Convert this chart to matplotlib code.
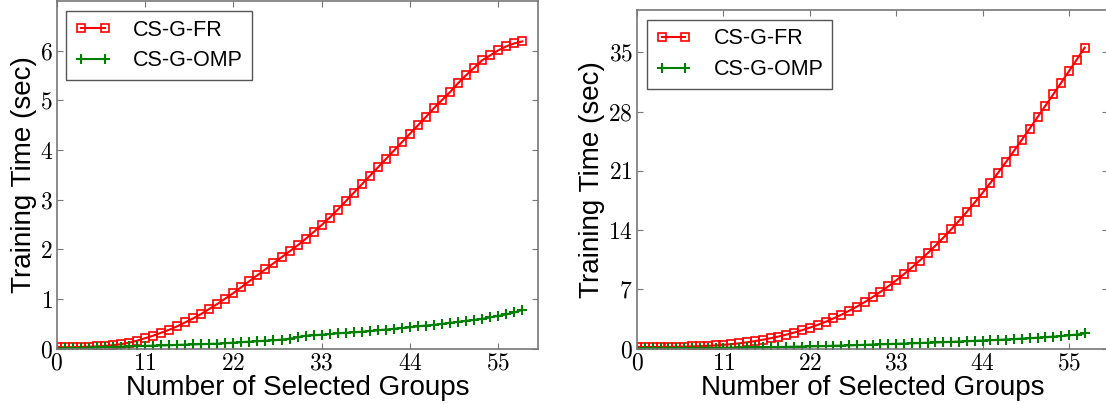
#!/usr/bin/env python3

import numpy as np
import matplotlib
matplotlib.use("Agg")
import matplotlib.pyplot as plt
from matplotlib.ticker import FuncFormatter, MultipleLocator

plt.rcParams["mathtext.fontset"] = "cm"
plt.rcParams["font.family"] = ["Liberation Sans", "DejaVu Sans"]

# left panel: 0 .. 58 selected groups
groups_left = list(range(0, 59))
fr_left = [0.03, 0.03, 0.03, 0.035, 0.04, 0.045, 0.055, 0.07, 0.09, 0.12,
           0.16, 0.21, 0.26, 0.32, 0.38, 0.45, 0.53, 0.61, 0.70, 0.80,
           0.90, 1.01, 1.12, 1.24, 1.36, 1.48, 1.60, 1.72, 1.84, 1.96,
           2.08, 2.21, 2.35, 2.49, 2.64, 2.80, 2.97, 3.14, 3.31, 3.48,
           3.65, 3.82, 3.99, 4.16, 4.33, 4.50, 4.67, 4.85, 5.01, 5.17,
           5.35, 5.51, 5.66, 5.81, 5.91, 6.01, 6.09, 6.15, 6.19]
omp_left = [0.0, 0.005, 0.01, 0.015, 0.02, 0.025, 0.03, 0.035, 0.04, 0.045,
            0.05, 0.055, 0.06, 0.065, 0.07, 0.075, 0.08, 0.085, 0.09, 0.095,
            0.10, 0.11, 0.12, 0.13, 0.14, 0.15, 0.16, 0.17, 0.18, 0.20,
            0.23, 0.26, 0.27, 0.28, 0.295, 0.31, 0.32, 0.33, 0.34, 0.355,
            0.37, 0.385, 0.40, 0.415, 0.43, 0.45, 0.465, 0.48, 0.50, 0.52,
            0.54, 0.56, 0.58, 0.60, 0.63, 0.66, 0.69, 0.73, 0.78]

# right panel: 0 .. 57 selected groups
groups_right = list(range(0, 58))
fr_right = [0.2, 0.2, 0.2, 0.2, 0.2, 0.22, 0.24, 0.26, 0.29, 0.33,
            0.38, 0.45, 0.53, 0.63, 0.75, 0.89, 1.05, 1.23, 1.43, 1.65,
            1.90, 2.18, 2.48, 2.81, 3.17, 3.57, 4.00, 4.47, 4.97, 5.51,
            6.09, 6.71, 7.37, 8.07, 8.81, 9.59, 10.41, 11.27, 12.17, 13.11,
            14.09, 15.11, 16.17, 17.27, 18.41, 19.59, 20.81, 22.07, 23.36, 24.67,
            26.00, 27.35, 28.70, 30.05, 31.41, 32.78, 34.16, 35.56]
omp_right = [0.05, 0.05, 0.05, 0.06, 0.06, 0.07, 0.07, 0.08, 0.08, 0.09,
             0.10, 0.11, 0.12, 0.13, 0.14, 0.15, 0.16, 0.18, 0.19, 0.21,
             0.23, 0.25, 0.27, 0.29, 0.31, 0.34, 0.36, 0.39, 0.42, 0.45,
             0.48, 0.51, 0.54, 0.57, 0.60, 0.63, 0.66, 0.70, 0.73, 0.77,
             0.80, 0.84, 0.88, 0.92, 0.96, 1.00, 1.04, 1.08, 1.13, 1.18,
             1.23, 1.29, 1.35, 1.42, 1.49, 1.57, 1.66, 1.80]

x_ticks = [0, 11, 22, 33, 44, 55]
labels = ["CS-G-FR", "CS-G-OMP"]


def tex_num(v, pos):
  return r"$%d$" % int(round(v))


def setup_axis(ax, ymax, ystep):
  ax.set_xlim(0, 60)
  ax.set_ylim(0, ymax)
  ax.set_xticks(x_ticks)
  ax.yaxis.set_major_locator(MultipleLocator(ystep))
  ax.set_yticks([t for t in np.arange(0, ymax, ystep)])
  ax.xaxis.set_major_formatter(FuncFormatter(tex_num))
  ax.yaxis.set_major_formatter(FuncFormatter(tex_num))
  ax.tick_params(direction="in", top=True, right=True, length=4,
                 width=0.8, color="#777777", labelsize=17, pad=3)
  for sp in ax.spines.values():
    sp.set_color("#777777")
    sp.set_linewidth(1.2)
  ax.set_xlabel("Number of Selected Groups", fontsize=20, labelpad=0)
  ax.set_ylabel("Training Time (sec)", fontsize=20, labelpad=2)


def draw(ax, x, fr, omp):
  ax.plot(x, fr, color="#ff0000", marker="s", markersize=5.5,
          markerfacecolor="none", markeredgecolor="#ff0000",
          markeredgewidth=1.2, linewidth=1.5, label=labels[0])
  ax.plot(x, omp, color="#008000", marker="+", markersize=7,
          markeredgewidth=1.5, linewidth=1.5, label=labels[1])
  leg = ax.legend(loc="upper left", fontsize=15.5, numpoints=2,
                  handlelength=1.7, fancybox=False, borderaxespad=0.45,
                  framealpha=1.0, borderpad=0.4, labelspacing=0.45,
                  handletextpad=1.0)
  leg.get_frame().set_edgecolor("#555555")
  leg.get_frame().set_linewidth(1.0)


fig = plt.figure(figsize=(11.06, 4.04), dpi=100)

ax1 = fig.add_axes([0.0513, 0.137, 0.4355, 0.86])
draw(ax1, groups_left, fr_left, omp_left)
setup_axis(ax1, 7, 1)

ax2 = fig.add_axes([0.576, 0.137, 0.426, 0.838])
draw(ax2, groups_right, fr_right, omp_right)
setup_axis(ax2, 40, 7)

fig.savefig("out.png", dpi=100)
